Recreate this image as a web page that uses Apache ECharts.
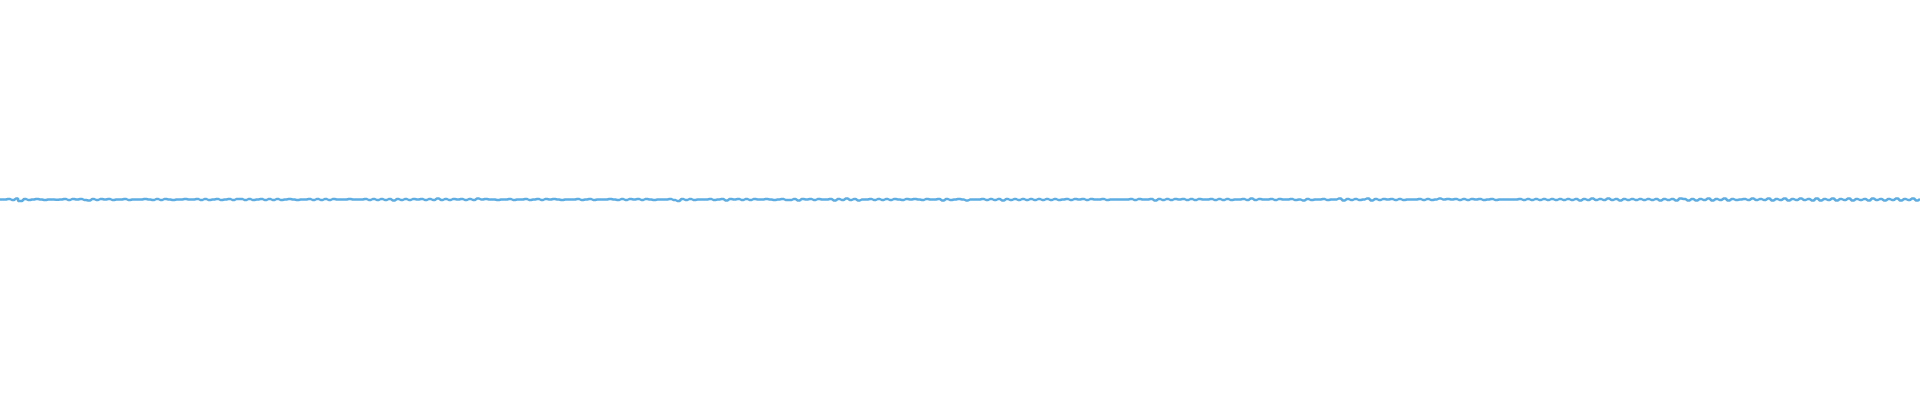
<!DOCTYPE html>
<html>
<head>
<meta charset="utf-8">
<script src="https://cdn.jsdelivr.net/npm/echarts@6/dist/echarts.min.js"></script>
<style>html,body{margin:0;padding:0;background:#fff}#c{width:1920px;height:400px}</style>
</head>
<body>
<div id="c"></div>
<script>
const seg1 = [0,0,1,-1,2,-3,1,-1,0,1,0,-1,0,0,-0.5,0,1,-1,1,0,1,-1,-2,1,-1,1,0,1,-1,0,0,1,-1,0,0,0,1,0,-1,1,-1,1,0,-1,0,0,1,0,0,1,-1,1,-1,0,1,-1,0,1,-1,1];
const seg2 = [1,-1,1,-1,0,1,-1,1,-1,1,-1,0,1,0,-1,0,0,1,-1,1,-1,1,-1,1,0,0,0,1,0,0,0,1,-1,1,-1,1,-1,1,-2,1,-1,1,-1,1,0,1,-1,1,-1,2,-1,1,-1,1,0,1,-1,1,-1,2];
const seg3 = [0,1,0,0,-1,0,0,1,-1,0,0,1,-1,0,1,-1,1,0,1,0,-1,0,0,0,1,-1,0,1,-1,0,0,0,1,0,-1,1,-1,1,0,1,-1,1,0,-1,0,0,0,1,-1,-3,1,-1,1,-1,0,0,0,1,-1,0];
const seg4 = [1,-2,1,0,1,-1,1,-1,1,0,0,1,0,-1,0,1,-1,-1,1,-2,1,0,1,-1,1,0,0,1,-2,1,-1,2,-1,1,-2,0,0,1,-1,1,-1,1,-1,1,0,-1,1,0,1,0,-1,1,0,0,1,-2,1,-1,0,1];
const seg5 = [0,-2,0,0,0,1,-1,1,-1,1,-2,1,-1,1,-1,1,-1,1,-1,1,-1,1,-1,1,-1,0,1,-1,1,0,1,-1,1,0,0,1,-1,0,0,0,0,0,1,-1,1,0,0,1,-2,1,-1,1,-1,1,0,1,-1,1,-1,1];
const seg6 = [0,0,1,-1,1,-1,1,-1,0,0,1,-1,2,-1,1,0,0,1,-1,1,0,0,1,-1,0,-2,1,-1,0,0,1,-1,0,0,2,-2,1,-1,1,-1,0,2,-2,1,-1,1,0,1,-1,1,-1,0,0,0,1,-1,1,-1,0,2];
const seg7 = [0,1,0,1,-1,1,-1,1,0,1,-1,0,1,-1,0,0,0,0,0,1,-1,1,-1,1,-1,1,-1,1,-1,1,-1,1,-1,1,-2,1,-1,2,-1,1,-1,2,-1,1,-2,1,-1,1,-1,1,-1,1,-1,1,-2,1,-1,1,-2,2];
const seg8 = [1,-2,1,-2,1,-1,2,-2,1,-1,2,-2,1,-1,0,1,-1,2,-1,1,-1,2,-2,1,-1,2,-2,1,-1,2,-1,1,-2,2,-2,1,-1,2,-2,1,-1,2,-2,1,-1,1,-2,2,-1,1,-2,1,-1,2,-2,1,-1,2,-2,1];

const values = [].concat(seg1, seg2, seg3, seg4, seg5, seg6, seg7, seg8);
const categories = values.map((v, i) => i);

const chart = echarts.init(document.getElementById('c'), null, {renderer: 'canvas'});
chart.setOption({
  animation: false,
  backgroundColor: '#ffffff',
  grid: {left: 0, right: 0, top: 0, bottom: 0},
  xAxis: {type: 'category', data: categories, boundaryGap: false, show: false},
  yAxis: {type: 'value', min: -401, max: 399, show: false, splitLine: {show: false}},
  series: [{
    type: 'line',
    data: values,
    step: 'middle',
    showSymbol: false,
    symbol: 'none',
    lineStyle: {color: '#5dade2', width: 2.5},
    itemStyle: {color: '#5dade2'}
  }]
});
</script>
</body>
</html>
